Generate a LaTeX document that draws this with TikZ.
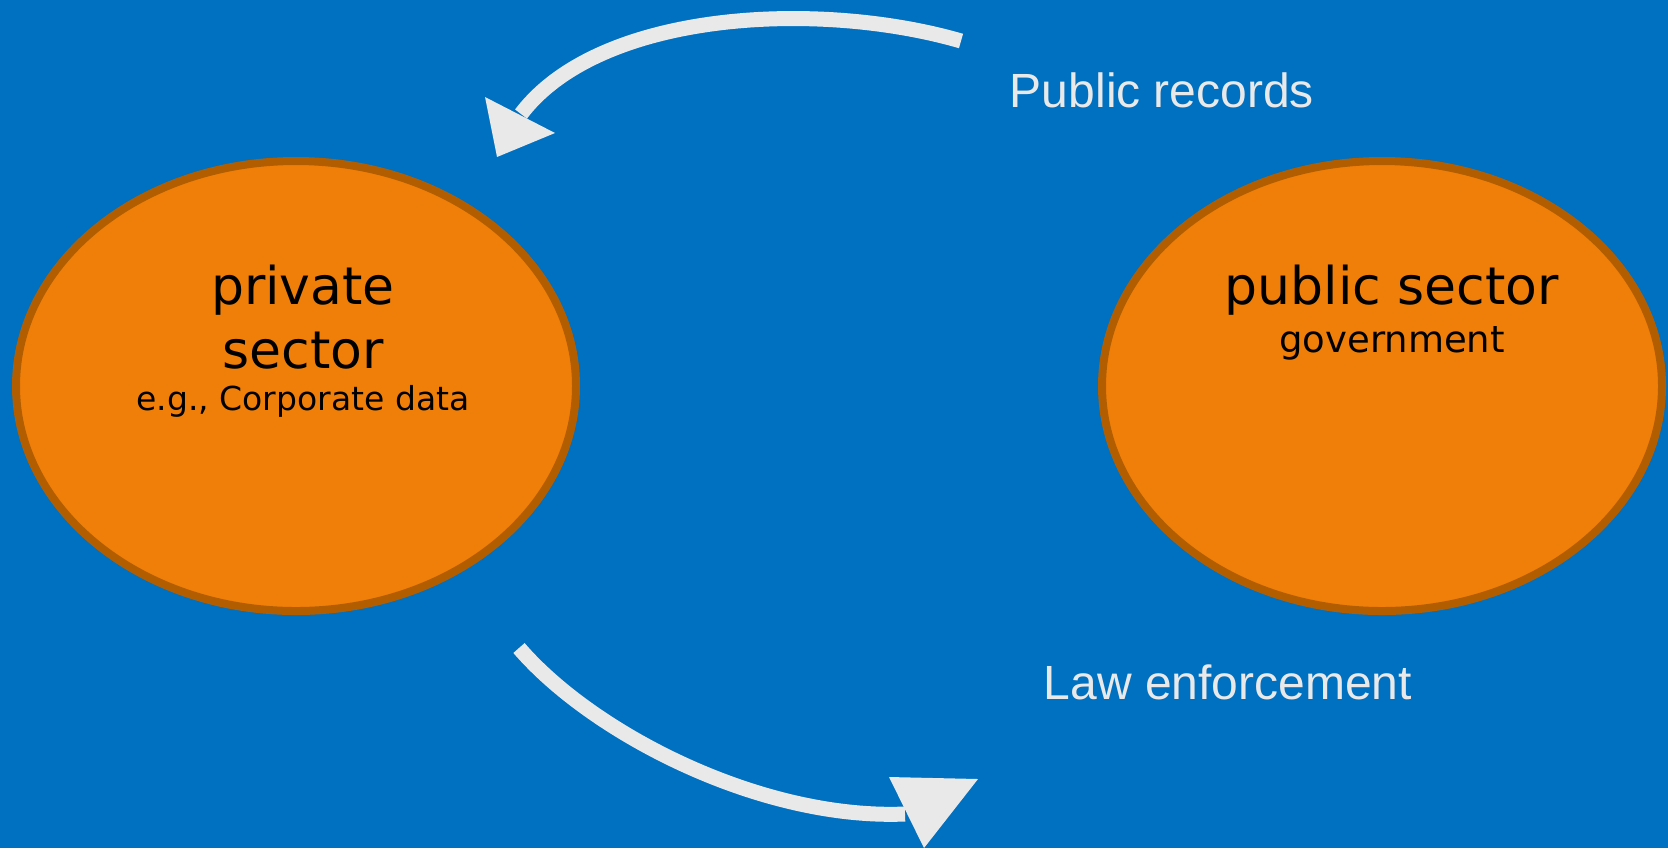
\documentclass[tikz,border=0pt]{standalone}
\usepackage{fontspec}
\setmainfont{DejaVu Sans}
\newfontfamily\labfont{Liberation Sans}
\usetikzlibrary{shapes.geometric}
\definecolor{bgblue}{RGB}{0,112,192}
\definecolor{orfill}{RGB}{240,127,9}
\definecolor{orborder}{RGB}{178,94,0}
\definecolor{arrowgray}{RGB}{233,233,233}
\tikzset{
  sector/.style={ellipse, draw=orborder, fill=orfill, line width=4pt,
    minimum width=280pt, minimum height=225pt, inner sep=0pt},
  bigtxt/.style={anchor=base, text=black, inner sep=0pt,
    font=\fontsize{26}{31}\selectfont},
  smalltxt/.style={anchor=base, text=black, inner sep=0pt,
    font=\fontsize{16.5}{20}\selectfont},
  labtxt/.style={anchor=base, text=arrowgray, inner sep=0pt,
    font=\labfont\fontsize{24}{29}\selectfont},
  shaft/.style={draw=arrowgray, line width=7.5pt, line cap=butt},
  headtri/.style={fill=arrowgray}
}
\begin{document}
\begin{tikzpicture}[x=0.5pt, y=-0.5pt]
\fill[bgblue] (0,0) rectangle (1668,848);
\useasboundingbox (0,0) rectangle (1668,848);

% ellipses
\node[sector] (priv) at (296,386) {};
\node[sector] (pub) at (1382,386) {};

% texts
\node[bigtxt] (privA) at (303,304) {private};
\node[bigtxt] (privB) at (303,368) {sector};
\node[smalltxt] (privC) at (303,410) {e.g., Corporate data};
\node[bigtxt] (pubA) at (1392,304) {public sector};
\node[smalltxt, font=\fontsize{18.5}{22}\selectfont] (pubB) at (1392,352) {government};

% labels
\node[labtxt] (lrec) at (1162,107) {Public records};
\node[labtxt] (llaw) at (1228,699) {Law enforcement};

% top arrow
\coordinate (tS) at (961,41);
\coordinate (tE) at (521,114);
\coordinate (tA) at (485,97);
\coordinate (tB) at (555,133);
\coordinate (tC) at (497,157);
\draw[shaft] (tS) .. controls (820,0) and (600,10) .. (tE);
\fill[headtri] (tA) -- (tB) -- (tC) -- cycle;

% bottom arrow
\coordinate (bS) at (519,648);
\coordinate (bE) at (905,814);
\coordinate (bA) at (889,777);
\coordinate (bB) at (978,779);
\coordinate (bC) at (924,848);
\draw[shaft] (bS) .. controls (592,733) and (760,820) .. (bE);
\fill[headtri] (bA) -- (bB) -- (bC) -- cycle;
\end{tikzpicture}
\end{document}
